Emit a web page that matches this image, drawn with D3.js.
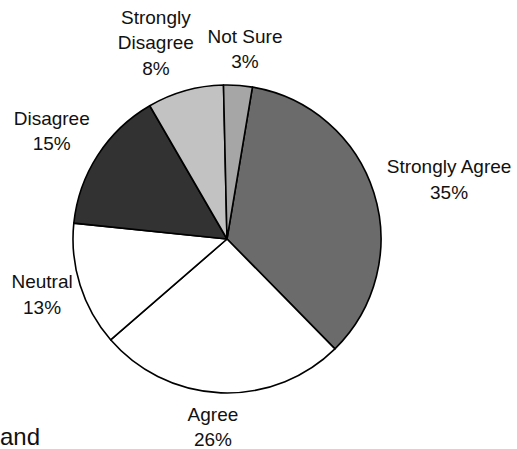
<!DOCTYPE html>
<html>
<head>
<meta charset="utf-8">
<script src="https://cdn.jsdelivr.net/npm/d3@7"></script>
<style>
  html, body { margin: 0; padding: 0; background: #fff; }
  svg { display: block; }
  text { font-family: Arial, "Liberation Sans", sans-serif; fill: #111; }
</style>
</head>
<body>
<svg id="chart" width="517" height="449"></svg>
<script>
// ---- data ----
const categories = ["Strongly Agree", "Agree", "Neutral", "Disagree", "Strongly Disagree", "Not Sure"];
const labelLines = [["Strongly Agree"], ["Agree"], ["Neutral"], ["Disagree"], ["Strongly", "Disagree"], ["Not Sure"]];
const values = [35, 26, 13, 15, 8, 3];
const percentLabels = ["35%", "26%", "13%", "15%", "8%", "3%"];
const footerText = "and";

// ---- styles ----
const fills = ["#6b6b6b", "#ffffff", "#ffffff", "#323232", "#c2c2c2", "#a6a6a6"];
const labelRadius = [230, 188, 193, 206, 209, 191];
const labelAngleNudge = [2.4, 2.0, 0.9, -1.2, -4.2, 1.3]; // degrees

const W = 517, H = 449;
const cx = 227, cy = 239, R = 154;
const startDeg = 9.5;
const fontSize = 19, lineH = 25.5;

const svg = d3.select("#chart");
const g = svg.append("g").attr("transform", `translate(${cx},${cy})`);

const pie = d3.pie().sort(null).value(d => d)
  .startAngle(startDeg * Math.PI / 180)
  .endAngle(startDeg * Math.PI / 180 + 2 * Math.PI);
const arcs = pie(values);
const arc = d3.arc().innerRadius(0).outerRadius(R);

g.selectAll("path.slice").data(arcs).join("path")
  .attr("class", "slice")
  .attr("d", arc)
  .attr("fill", (d, i) => fills[i])
  .attr("stroke", "#000")
  .attr("stroke-width", 1.6)
  .attr("stroke-linejoin", "round");

// labels
arcs.forEach((d, i) => {
  const mid = (d.startAngle + d.endAngle) / 2 + labelAngleNudge[i] * Math.PI / 180;
  const [px, py] = d3.pointRadial(mid, labelRadius[i]);
  const lines = labelLines[i].concat([percentLabels[i]]);
  const n = lines.length;
  const t = g.append("text")
    .attr("text-anchor", "middle")
    .attr("font-size", fontSize);
  lines.forEach((s, k) => {
    t.append("tspan")
      .attr("x", px)
      .attr("y", py + (k - (n - 1) / 2) * lineH + fontSize * 0.36)
      .text(s);
  });
});

svg.append("text")
  .attr("x", 0)
  .attr("y", 445)
  .attr("font-size", 24)
  .text(footerText);
</script>
</body>
</html>
